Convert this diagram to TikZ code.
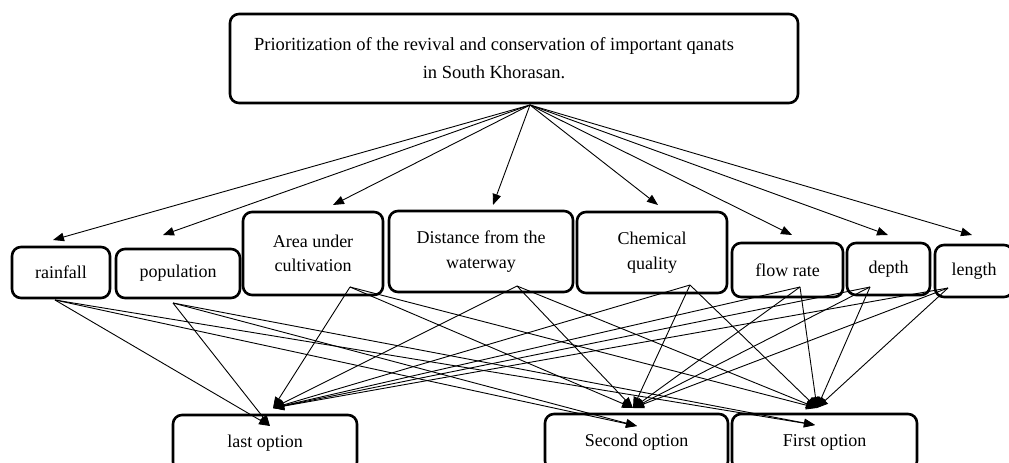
\documentclass[tikz,border=0pt]{standalone}
\usepackage{fontspec}
\setmainfont{Liberation Serif}
\usetikzlibrary{arrows.meta}

\begin{document}
\begin{tikzpicture}[x=1pt,y=-1pt,
      box/.style={draw,rounded corners=9pt,line width=2.6pt,align=center,inner sep=0pt,font=\fontsize{18}{24.5}\selectfont},
      link/.style={line width=0.9pt,-{Triangle[length=11pt,width=8.5pt]}}
      ]
      \useasboundingbox (0,0) rectangle (1009,463);
      \clip (0,0) rectangle (1009,463);
      % goal
      \node[box,minimum width=568pt,minimum height=89pt,font=\fontsize{18.5}{28}\selectfont] (goal) at (514,58.5) {Prioritization of the revival and conservation of important qanats\hspace*{40pt}\\in South Khorasan.\hspace*{40pt}};
      % criteria
      \node[box,minimum width=98pt,minimum height=51pt] (rain) at (61,272.5) {rainfall};
      \node[box,minimum width=124pt,minimum height=49pt] (pop) at (178,273.5) {population};
      \node[box,minimum width=140pt,minimum height=83pt] (area) at (313,253.5) {Area under\\cultivation};
      \node[box,minimum width=184pt,minimum height=81pt] (dist) at (481,251.5) {Distance from the\\waterway};
      \node[box,minimum width=150pt,minimum height=81pt] (chem) at (652,252.5) {Chemical\\quality};
      \node[box,minimum width=111pt,minimum height=54pt] (flow) at (787.5,270) {flow rate};
      \node[box,minimum width=83pt,minimum height=52pt] (depth) at (888.5,269) {depth};
      \node[box,minimum width=78pt,minimum height=52pt] (len) at (974,271) {length};
      % options
      \node[box,minimum width=184pt,minimum height=56pt] (last) at (265,443) {last option};
      \node[box,minimum width=183pt,minimum height=56pt] (second) at (636.5,442) {Second option};
      \node[box,minimum width=185pt,minimum height=56pt] (first) at (824.5,442) {First option};

      \coordinate (src) at (530,105);
      \coordinate (rainIn) at (53,240);
      \coordinate (popIn) at (163,235);
      \coordinate (areaIn) at (333,205);
      \coordinate (distIn) at (493,205);
      \coordinate (chemIn) at (658,205);
      \coordinate (flowIn) at (792,235);
      \coordinate (depthIn) at (888,235);
      \coordinate (lenIn) at (972,235);

      \coordinate (rainOut) at (55,300);
      \coordinate (popOut) at (173,303);
      \coordinate (areaOut) at (350,287);
      \coordinate (distOut) at (517,286);
      \coordinate (chemOut) at (690,285);
      \coordinate (flowOut) at (800,287);
      \coordinate (depthOut) at (870,287);
      \coordinate (lenOut) at (948,288);

      \coordinate (lastIn) at (273,408);
      \coordinate (secondIn) at (633,408);
      \coordinate (firstIn) at (817,408);
      \coordinate (lastLow) at (270,426);
      \coordinate (secondLow) at (637,426);
      \coordinate (firstLow) at (815,425);

      \foreach \tip in {rainIn,popIn,areaIn,distIn,chemIn,flowIn,depthIn,lenIn}
        \draw[link] (src) -- (\tip);

      \foreach \from in {areaOut,distOut,chemOut,flowOut,depthOut,lenOut}{
        \draw[link] (\from) -- (lastIn);
        \draw[link] (\from) -- (secondIn);
        \draw[link] (\from) -- (firstIn);
      }
      \foreach \from in {rainOut,popOut}{
        \draw[link] (\from) -- (lastLow);
        \draw[link] (\from) -- (secondLow);
        \draw[link] (\from) -- (firstLow);
      }
    \end{tikzpicture}
\end{document}
